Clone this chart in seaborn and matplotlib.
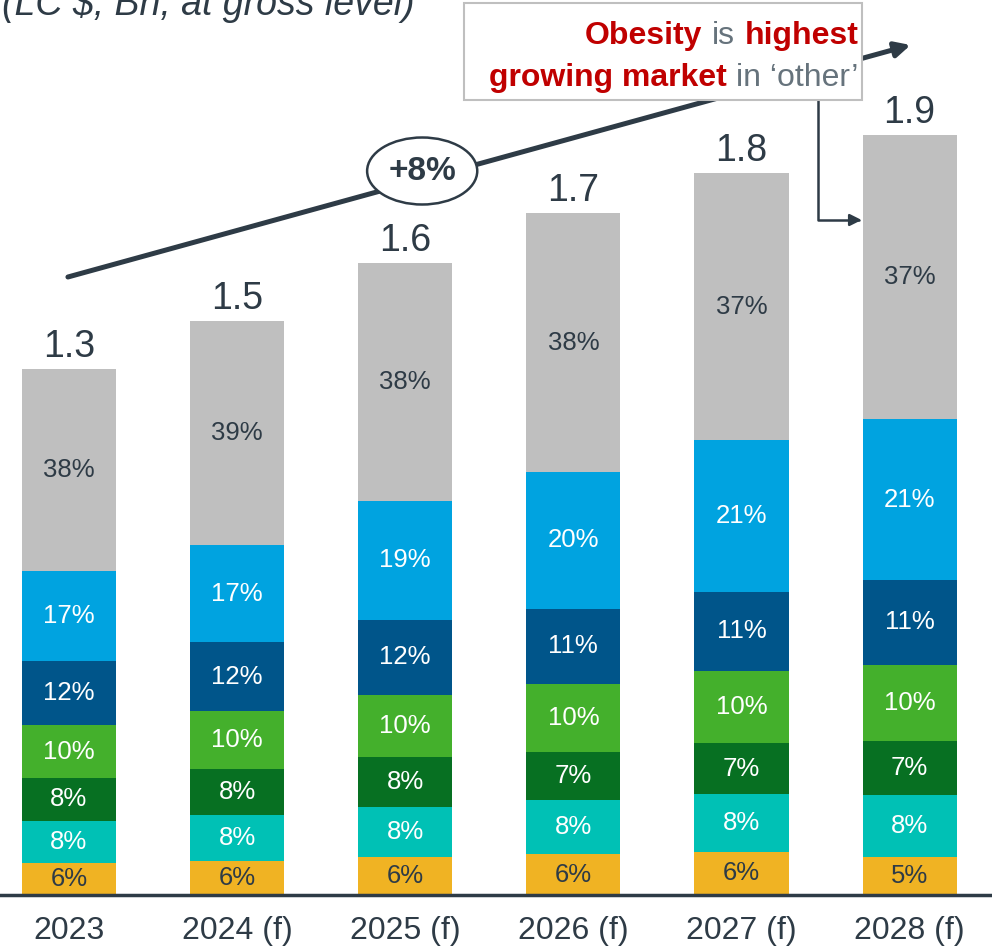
import matplotlib
matplotlib.use('Agg')
import matplotlib.pyplot as plt
import pandas as pd
import seaborn as sns
from matplotlib.patches import Ellipse, Rectangle
from matplotlib.offsetbox import TextArea, HPacker, VPacker, AnnotationBbox

# Data
years = ['2023', '2024 (f)', '2025 (f)', '2026 (f)', '2027 (f)', '2028 (f)']
total_labels = ['1.3', '1.5', '1.6', '1.7', '1.8', '1.9']
bar_totals = [1.315, 1.435, 1.58, 1.705, 1.805, 1.90]   # estimated bar heights (LC $ Bn)

share_orange = [6, 6, 6, 6, 6, 5]
share_teal = [8, 8, 8, 8, 8, 8]
share_darkgreen = [8, 8, 8, 7, 7, 7]
share_lightgreen = [10, 10, 10, 10, 10, 10]
share_darkblue = [12, 12, 12, 11, 11, 11]
share_lightblue = [17, 17, 19, 20, 21, 21]
share_other = [38, 39, 38, 38, 37, 37]

segments = ['orange', 'teal', 'darkgreen', 'lightgreen', 'darkblue', 'lightblue', 'other']
colors = ['#F0B323', '#00C1B5', '#077022', '#44B02C', '#00558A', '#00A3E0', '#BFBFBF']
label_colors = ['#2E3B46', 'white', 'white', 'white', 'white', 'white', '#2E3B46']

dark = '#2E3B46'
red = '#C00000'
grey_txt = '#66737C'

shares = pd.DataFrame({
    'orange': share_orange, 'teal': share_teal, 'darkgreen': share_darkgreen,
    'lightgreen': share_lightgreen, 'darkblue': share_darkblue,
    'lightblue': share_lightblue, 'other': share_other,
}, index=years)

# segment sizes so that each stack fills the bar
values = shares.div(shares.sum(axis=1), axis=0).mul(bar_totals, axis=0)
cum = values.cumsum(axis=1)

sns.set_style('white')
plt.rcParams['font.family'] = ['Liberation Sans', 'DejaVu Sans']

fig = plt.figure(figsize=(9.92, 9.52), dpi=100)
ax = fig.add_axes([0, 57 / 952, 1, 895 / 952])

# stacked bars: draw the tallest cumulative layer first
for seg, color in reversed(list(zip(segments, colors))):
    sns.barplot(x=years, y=cum[seg].values, color=color, width=0.56,
                saturation=1, linewidth=0, errorbar=None, ax=ax)

# percentage labels
for i, yr in enumerate(years):
    for seg, tc in zip(segments, label_colors):
        mid = cum.loc[yr, seg] - values.loc[yr, seg] / 2
        ax.text(i, mid, f'{shares.loc[yr, seg]}%', ha='center', va='center',
                fontsize=18.5, color=tc)
    ax.annotate(total_labels[i], (i, cum.loc[yr, 'other']), xytext=(0, 3),
                textcoords='offset points', ha='center', va='bottom',
                fontsize=27, color=dark)

ax.set_xlim(-0.41, 5.49)
ax.set_ylim(0, 895 / 400)
ax.set_yticks([])
ax.set_ylabel('')
for s in ['left', 'right', 'top']:
    ax.spines[s].set_visible(False)
ax.spines['bottom'].set_color(dark)
ax.spines['bottom'].set_linewidth(2.5)
ax.tick_params(axis='x', length=0, pad=15, labelsize=23, labelcolor=dark)

# CAGR trend arrow
ax.annotate('', xy=(5.006, 2.125), xytext=(-0.006, 1.545),
            arrowprops=dict(arrowstyle='-|>,head_length=0.9,head_width=0.45',
                            lw=3.6, color=dark, shrinkA=0, shrinkB=0),
            zorder=4, annotation_clip=False)
ax.add_patch(Ellipse((2.101, 1.81), 0.655, 0.1675, facecolor='white',
                     edgecolor=dark, lw=1.8, zorder=5, clip_on=False))
ax.text(2.101, 1.81, '+8%', ha='center', va='center', fontsize=24,
        fontweight='bold', color=dark, zorder=6)

# callout box
ax.add_patch(Rectangle((2.351, 1.9875), 4.714 - 2.351, 2.23 - 1.9875,
                       facecolor='white', edgecolor='#BFBFBF', lw=1.5,
                       zorder=5, clip_on=False))


def part(s, bold):
    return TextArea(s, textprops=dict(fontsize=23, color=red if bold else grey_txt,
                                      fontweight='bold' if bold else 'normal'))


line1 = HPacker(children=[part('Obesity', True), part('is', False), part('highest', True)],
                align='baseline', pad=0, sep=7)
line2 = HPacker(children=[part('growing market', True), part('in \u2018other\u2019', False)],
                align='baseline', pad=0, sep=7)
block = VPacker(children=[line1, line2], align='right', pad=0, sep=8)
ab = AnnotationBbox(block, (4.696, 2.095), box_alignment=(1, 0.5),
                    frameon=False, pad=0, zorder=6, annotation_clip=False)
ax.add_artist(ab)

# elbow arrow from callout to 2028 bar
ax.annotate('', xy=(4.715, 1.6875), xytext=(4.458, 1.9875),
            arrowprops=dict(arrowstyle='-|>,head_length=0.7,head_width=0.35',
                            connectionstyle='angle,angleA=-90,angleB=180,rad=0',
                            lw=1.8, color=dark, shrinkA=0, shrinkB=0),
            zorder=4, annotation_clip=False)

# partially visible subtitle at the very top
fig.text(0.002, 1 - 15 / 952, '(LC $, Bn, at gross level)', style='italic',
         fontsize=27, ha='left', va='baseline', color=dark)

fig.savefig('out.png', dpi=100)
